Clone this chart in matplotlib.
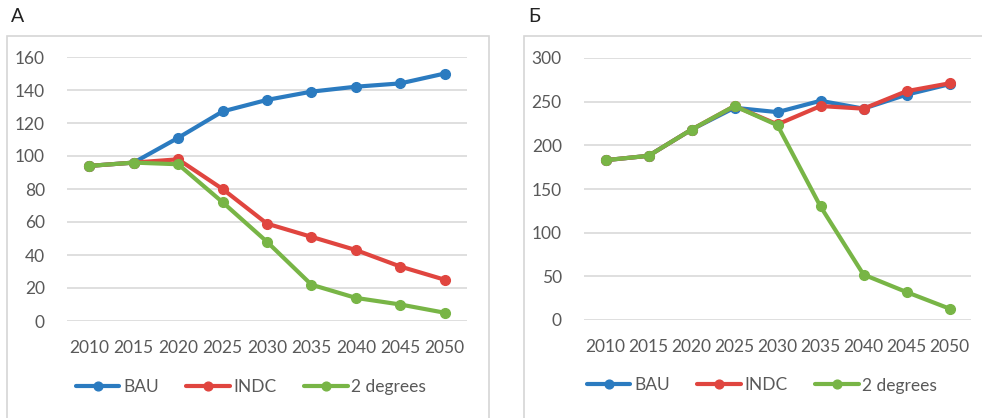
import matplotlib.pyplot as plt
from matplotlib.patches import Rectangle

years = ['2010', '2015', '2020', '2025', '2030', '2035', '2040', '2045', '2050']

# panel А
a_bau = [94, 96, 111, 127, 134, 139, 142, 144, 150]
a_indc = [94, 96, 98, 80, 59, 51, 43, 33, 25]
a_2deg = [94, 96, 95, 72, 48, 22, 14, 10, 5]

# panel Б
b_bau = [183, 188, 218, 243, 238, 251, 242, 258, 270]
b_indc = [183, 188, 218, 245, 224, 245, 242, 262, 271]
b_2deg = [183, 188, 218, 245, 223, 130, 52, 32, 13]

names = ['BAU', 'INDC', '2 degrees']
colors = ['#2B7BC0', '#E0453F', '#78B546']

plt.rcParams['font.family'] = ['Lato', 'DejaVu Sans']

W, H = 982, 418
fig = plt.figure(figsize=(W / 100, H / 100), dpi=100)


def px_axes(x0, x1, ytop, ybot):
    return fig.add_axes([x0 / W, (H - ybot) / H, (x1 - x0) / W, (ybot - ytop) / H])


def frame(x0, x1, ytop, ybot):
    fig.patches.append(Rectangle((x0 / W, (H - ybot) / H), (x1 - x0) / W, (ybot - ytop) / H,
                                 transform=fig.transFigure, fill=False,
                                 edgecolor='#D6D6D6', linewidth=1.2))


def panel(ax, series, ymax, ystep, title, tx):
    x = list(range(len(years)))
    for vals, name, c in zip(series, names, colors):
        ax.plot(x, vals, color=c, lw=3, marker='o', ms=7, label=name,
                solid_capstyle='round', clip_on=False)
    ax.set_xlim(-0.5, len(years) - 0.5)
    ax.set_ylim(0, ymax)
    ax.set_yticks(range(0, ymax + 1, ystep))
    ax.set_xticks(x)
    ax.set_xticklabels(years)
    ax.grid(axis='y', color='#D9D9D9', lw=1.2)
    ax.set_axisbelow(True)
    for s in ax.spines.values():
        s.set_visible(False)
    ax.tick_params(length=0, labelsize=12.5, labelcolor='#595959')
    ax.tick_params(axis='y', pad=16)
    ax.tick_params(axis='x', pad=14)
    ax.legend(loc='center', bbox_to_anchor=(0.46, -0.25), ncol=3, frameon=False,
              fontsize=12.5, handlelength=2.5, handletextpad=0.2, columnspacing=1.6,
              labelcolor='#595959', markerscale=0.9)
    fig.text(tx / W, (H - 17) / H, title, fontsize=14, color='#222222', va='center', ha='left')


frame(7, 489, 36, 430)
frame(524, 1000, 36, 430)

ax1 = px_axes(67, 467, 57, 321)
panel(ax1, [a_bau, a_indc, a_2deg], 160, 20, 'А', 11)

ax2 = px_axes(584, 971, 58, 320)
panel(ax2, [b_bau, b_indc, b_2deg], 300, 50, 'Б', 528)

fig.savefig('out.png', dpi=100)
